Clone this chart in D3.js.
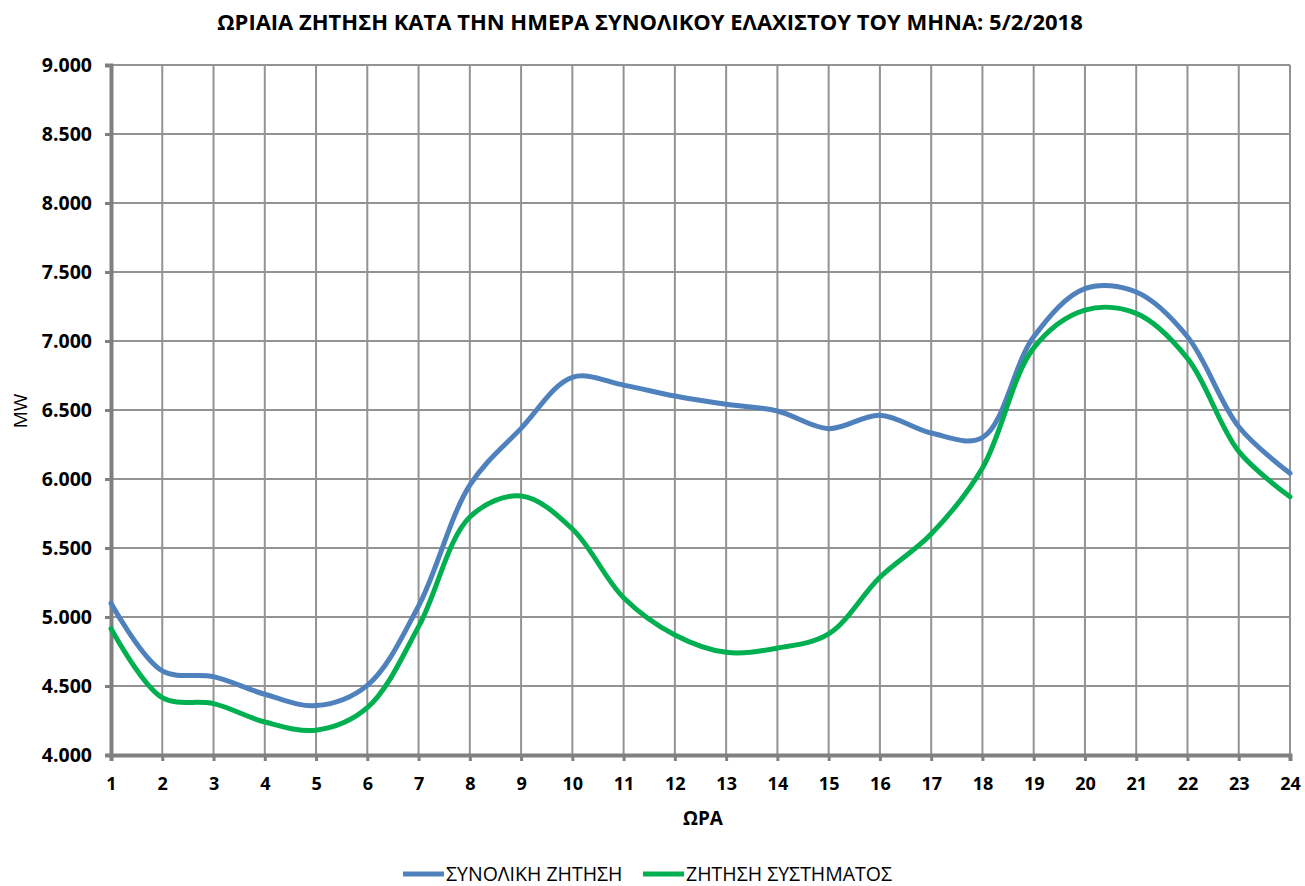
<!DOCTYPE html>
<html>
<head>
<meta charset="utf-8">
<script src="https://cdn.jsdelivr.net/npm/d3@7"></script>
<style>
  body { margin: 0; background: #fff; }
  svg { display: block; font-family: "Open Sans", "DejaVu Sans", sans-serif; }
</style>
</head>
<body>
<svg id="chart" width="1305" height="886"></svg>
<script>
const hours = [1,2,3,4,5,6,7,8,9,10,11,12,13,14,15,16,17,18,19,20,21,22,23,24];
const totalDemand = [5100,4610,4568,4440,4358,4505,5080,5955,6367,6737,6680,6601,6541,6493,6365,6462,6333,6300,7031,7380,7355,7031,6379,6041];
const systemDemand = [4916,4416,4372,4239,4180,4343,4930,5725,5877,5638,5140,4870,4744,4775,4877,5288,5601,6080,6950,7224,7200,6874,6200,5872];
const yTicks = [4000,4500,5000,5500,6000,6500,7000,7500,8000,8500,9000];
const seriesNames = ["ΣΥΝΟΛΙΚΗ ΖΗΤΗΣΗ", "ΖΗΤΗΣΗ ΣΥΣΤΗΜΑΤΟΣ"];
const seriesColors = ["#4F81BD", "#00B050"];
const titleText = "ΩΡΙΑΙΑ ΖΗΤΗΣΗ ΚΑΤΑ ΤΗΝ ΗΜΕΡΑ ΣΥΝΟΛΙΚΟΥ ΕΛΑΧΙΣΤΟΥ ΤΟΥ ΜΗΝΑ: 5/2/2018";
const xTitle = "ΩΡΑ";
const yTitle = "MW";

const svg = d3.select("#chart");
const L = 111, R = 1290, T = 65, B = 755;

const x = d3.scaleLinear().domain([1, 24]).range([L, R]);
const y = d3.scaleLinear().domain([4000, 9000]).range([B, T]);
const fmt = d => d3.format(",")(d).replace(/,/g, ".");

// grid
svg.append("g").selectAll("line.h").data(yTicks.slice(1)).join("line")
  .attr("x1", L).attr("x2", R).attr("y1", d => y(d)).attr("y2", d => y(d))
  .attr("stroke", "#939393").attr("stroke-width", 2);
svg.append("g").selectAll("line.v").data(hours.slice(1)).join("line")
  .attr("x1", d => x(d)).attr("x2", d => x(d)).attr("y1", T).attr("y2", B)
  .attr("stroke", "#939393").attr("stroke-width", 2);

// y axis
const yAxis = svg.append("g").attr("transform", `translate(${L},0)`)
  .call(d3.axisLeft(y).tickValues(yTicks).tickFormat(fmt).tickSize(6).tickPadding(13));
yAxis.select(".domain").attr("stroke", "#808080").attr("stroke-width", 4);
yAxis.selectAll(".tick line").attr("stroke", "#808080").attr("stroke-width", 3);
yAxis.selectAll(".tick text").attr("font-size", 19.5).attr("font-weight", "bold")
  .attr("fill", "#000").attr("font-family", "'Open Sans', sans-serif");

// x axis
const xAxis = svg.append("g").attr("transform", `translate(0,${B})`)
  .call(d3.axisBottom(x).tickValues(hours).tickFormat(d3.format("d")).tickSize(6).tickPadding(16));
xAxis.select(".domain").attr("stroke", "#808080").attr("stroke-width", 4);
xAxis.selectAll(".tick line").attr("stroke", "#808080").attr("stroke-width", 3);
xAxis.selectAll(".tick text").attr("font-size", 18).attr("font-weight", "bold")
  .attr("fill", "#000").attr("font-family", "'Open Sans', sans-serif");

// lines
const line = d3.line().x((d, i) => x(hours[i])).y(d => y(d)).curve(d3.curveCatmullRom.alpha(0.5));
[totalDemand, systemDemand].forEach((s, i) => {
  svg.append("path").datum(s).attr("d", line)
    .attr("fill", "none").attr("stroke", seriesColors[i]).attr("stroke-width", 5)
    .attr("stroke-linejoin", "round").attr("stroke-linecap", "round");
});

// title
svg.append("text").attr("x", 650).attr("y", 30).attr("text-anchor", "middle")
  .attr("font-size", 22).attr("font-weight", "bold").attr("fill", "#000").text(titleText);

// axis titles
svg.append("text").attr("x", 703).attr("y", 825).attr("text-anchor", "middle")
  .attr("font-size", 19).attr("font-weight", "bold").attr("fill", "#000").text(xTitle);
svg.append("text").attr("transform", "translate(27,411) rotate(-90)").attr("text-anchor", "middle")
  .attr("font-size", 19).attr("fill", "#000").text(yTitle);

// legend
const legendX = [403, 643];
seriesNames.forEach((n, i) => {
  const g = svg.append("g").attr("transform", `translate(${legendX[i]},874)`);
  g.append("line").attr("x1", 0).attr("x2", 41).attr("y1", 0).attr("y2", 0)
    .attr("stroke", seriesColors[i]).attr("stroke-width", 5);
  g.append("text").attr("x", 43).attr("y", 7).attr("font-size", 19.5).attr("fill", "#000").text(n);
});
</script>
</body>
</html>
